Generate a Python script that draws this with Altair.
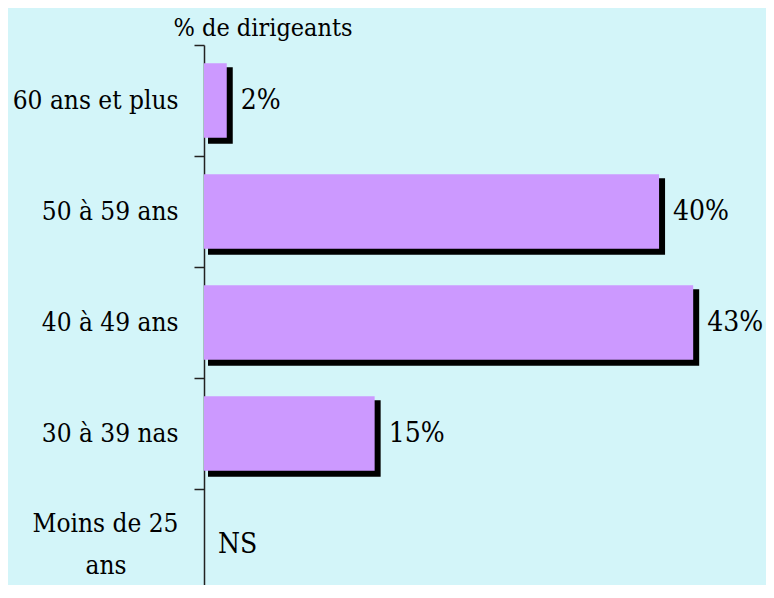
import altair as alt
import pandas as pd

categories = ["60 ans et plus", "50 à 59 ans", "40 à 49 ans", "30 à 39 nas", "Moins de 25 ans"]
values = [2, 40, 43, 15, None]
value_labels = ["2%", "40%", "43%", "15%", "NS"]

df = pd.DataFrame({
    "cat": categories,
    "value": values,
    "label": value_labels,
})
df["pos"] = df["value"].fillna(0)

FONT = "DejaVu Serif Condensed"
BG = "#d3f5f9"
BAR = "#cc99ff"

nb = "\u00a0" * 7 + "\u200b"
label_expr = (
    "datum.label == 'Moins de 25 ans' ? ['Moins de 25', 'ans" + nb + "'] : datum.label"
)

y = alt.Y(
    "cat:N",
    sort=categories,
    scale=alt.Scale(range=[0, 555], paddingInner=0, paddingOuter=0),
    axis=alt.Axis(
        title="% de dirigeants",
        titleAngle=0,
        titleAlign="left",
        titleBaseline="alphabetic",
        titleX=-31,
        titleY=-10,
        titleFont=FONT,
        titleFontSize=25,
        titleFontWeight="normal",
        titleColor="black",
        labelFont=FONT,
        labelFontSize=26,
        labelColor="black",
        labelPadding=16,
        labelLimit=400,
        labelLineHeight=42,
        labelExpr=label_expr,
        labelOffset={"condition": {"test": "datum.value == 'Moins de 25 ans'", "value": -21}, "value": 0},
        tickBand="extent",
        tickSize=10,
        tickWidth=1.5,
        tickColor="#222222",
        domainColor="#222222",
        domainWidth=1.5,
        grid=False,
    ),
)

x_scale = alt.Scale(domain=[0, 49.4], nice=False, zero=True)

base = alt.Chart(df)

shadow = base.transform_filter("isValid(datum.value)").mark_bar(
    color="black",
    stroke="black",
    strokeWidth=2,
    height={"band": 0.67},
    xOffset=5,
    x2Offset=5,
    yOffset=5,
    y2Offset=5,
).encode(
    x=alt.X("value:Q", scale=x_scale, axis=None),
    y=y,
)

bars = base.transform_filter("isValid(datum.value)").mark_bar(
    color=BAR,
    height={"band": 0.67},
).encode(
    x=alt.X("value:Q", scale=x_scale, axis=None),
    y=y,
)

texts = base.mark_text(
    align="left",
    baseline="middle",
    dx=14,
    font=FONT,
    fontSize=28,
    color="black",
).encode(
    x=alt.X("pos:Q", scale=x_scale, axis=None),
    y=y,
    text="label:N",
)

chart = alt.layer(shadow, bars, texts).properties(
    width=562,
    height=540,
    padding={"left": 196, "top": 37, "right": 0, "bottom": 0},
    autosize=alt.AutoSizeParams(type="none"),
    background=BG,
).configure_view(stroke=None)

chart.save("out.html", embed_options={"renderer": "svg", "actions": False})
